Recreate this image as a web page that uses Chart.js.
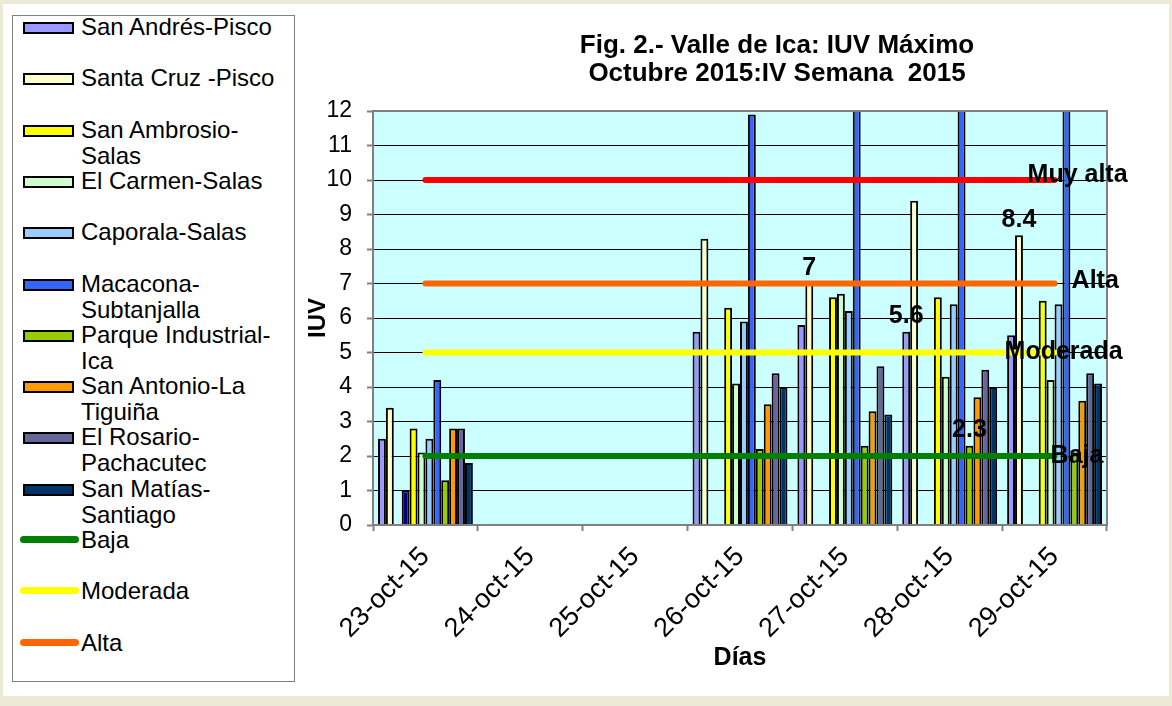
<!DOCTYPE html>
<html>
<head>
<meta charset="utf-8">
<script src="https://cdn.jsdelivr.net/npm/chart.js@4.4.0/dist/chart.umd.min.js"></script>
<style>
  body { margin: 0; background: #ECE9D8; }
  #marco { position: absolute; left: 3px; top: 4px; width: 1166px; height: 692px; background: #fff; }
  #grafico { position: absolute; left: 0; top: 0; }
  #leyenda { position: absolute; left: 12px; top: 15px; width: 281px; height: 665px;
    border: 1px solid #808080; background: #fff; overflow: hidden;
    font-family: "Liberation Sans", Arial, sans-serif; font-size: 24px; color: #000; }
  .item { position: absolute; left: 0; width: 281px; }
  .simbolo { position: absolute; }
  .texto { position: absolute; left: 68px; width: 205px; line-height: 26px; }
</style>
</head>
<body>
<div id="marco"></div>
<canvas id="grafico" width="1172" height="706"></canvas>
<div id="leyenda"></div>
<script>
  // datos
  const dias = ['23-oct-15', '24-oct-15', '25-oct-15', '26-oct-15', '27-oct-15', '28-oct-15', '29-oct-15'];

  const sanAndres   = [2.5, null, null, 5.6, 5.8, 5.6, 5.5];
  const santaCruz   = [3.4, null, null, 8.3, 7.0, 9.4, 8.4];
  const serieSinNombre1 = [null, null, null, null, null, null, null];
  const serieSinNombre2 = [1.0, null, null, null, null, null, null];
  const sanAmbrosio = [2.8, null, null, 6.3, 6.6, 6.6, 6.5];
  const elCarmen    = [2.1, null, null, 4.1, 6.7, 4.3, 4.2];
  const caporala    = [2.5, null, null, 5.9, 6.2, 6.4, 6.4];
  const macacona    = [4.2, null, null, 11.9, 13, 13, 13];
  const parque      = [1.3, null, null, 2.2, 2.3, 2.3, 2.1];
  const sanAntonio  = [2.8, null, null, 3.5, 3.3, 3.7, 3.6];
  const elRosario   = [2.8, null, null, 4.4, 4.6, 4.5, 4.4];
  const sanMatias   = [1.8, null, null, 4.0, 3.2, 4.0, 4.1];

  const baja     = [2, 2, 2, 2, 2, 2, 2];
  const moderada = [5, 5, 5, 5, 5, 5, 5];
  const alta     = [7, 7, 7, 7, 7, 7, 7];
  const muyAlta  = [10, 10, 10, 10, 10, 10, 10];

  const yTicks = [0, 1, 2, 3, 4, 5, 6, 7, 8, 9, 10, 11, 12];

  const barras = [
    { label: 'San Andrés-Pisco', data: sanAndres, color: '#9999FF' },
    { label: 'Santa Cruz -Pisco', data: santaCruz, color: '#FFFFCC' },
    { label: 'Serie 13', data: serieSinNombre1, color: '#800080', oculto: true },
    { label: 'Serie 14', data: serieSinNombre2, color: '#000080', oculto: true },
    { label: 'San Ambrosio-Salas', data: sanAmbrosio, color: '#FFFF00' },
    { label: 'El Carmen-Salas', data: elCarmen, color: '#CCFFCC' },
    { label: 'Caporala-Salas', data: caporala, color: '#99CCFF' },
    { label: 'Macacona-Subtanjalla', data: macacona, color: '#3366FF' },
    { label: 'Parque Industrial-Ica', data: parque, color: '#99CC00' },
    { label: 'San Antonio-La Tiguiña', data: sanAntonio, color: '#FF9900' },
    { label: 'El Rosario-Pachacutec', data: elRosario, color: '#666699' },
    { label: 'San Matías-Santiago', data: sanMatias, color: '#003366' }
  ];
  const lineas = [
    { label: 'Baja', data: baja, color: '#008000', dx: -4, dy: 0 },
    { label: 'Moderada', data: moderada, color: '#FFFF00', dx: -50, dy: 0 },
    { label: 'Alta', data: alta, color: '#FF6600', dx: 17, dy: -2 },
    { label: 'Muy alta', data: muyAlta, color: '#FF0000', dx: -27, dy: -5 }
  ];

  // etiquetas de valor: [serie, dia]
  const etiquetas = [[1, 4], [0, 5], [8, 5], [1, 6]];

  const datasets = barras.map(b => ({
    type: 'bar', label: b.label, data: b.data,
    backgroundColor: b.color, borderColor: '#000', borderWidth: 2,
    categoryPercentage: 0.905, barPercentage: 1,
    clip: { top: 0, left: false, right: false, bottom: false }
  })).concat(lineas.map(l => ({
    type: 'line', label: l.label, data: l.data, order: -1,
    borderColor: l.color, borderWidth: 6, borderCapStyle: 'round',
    pointRadius: 0, fill: false
  })));

  // leyenda en html
  const leyenda = document.getElementById('leyenda');
  const entradas = barras.filter(b => !b.oculto).map(b => ({ label: b.label, color: b.color, tipo: 'bar' }))
    .concat(lineas.map(l => ({ label: l.label, color: l.color, tipo: 'line' })));
  entradas.forEach((e, i) => {
    const cy = 27 + 51.3 * i - 16;
    const item = document.createElement('div');
    item.className = 'item';
    item.style.top = (cy - 13) + 'px';
    const s = document.createElement('div');
    s.className = 'simbolo';
    if (e.tipo === 'bar') {
      s.style.cssText = 'left:10px;top:8px;width:47px;height:8px;border:2px solid #000;background:' + e.color;
    } else {
      s.style.cssText = 'left:7px;top:9px;width:59px;height:7px;border-radius:4px;background:' + e.color;
    }
    const t = document.createElement('div');
    t.className = 'texto';
    t.textContent = e.label;
    item.appendChild(s);
    item.appendChild(t);
    leyenda.appendChild(item);
  });

  const fuente = '"Liberation Sans", Arial, sans-serif';

  const extras = {
    id: 'extras',
    beforeDraw(chart) {
      const { ctx, chartArea: a } = chart;
      ctx.save();
      ctx.fillStyle = '#CCFFFF';
      ctx.fillRect(a.left, a.top, a.right - a.left, a.bottom - a.top);
      ctx.restore();
    },
    afterDraw(chart) {
      const { ctx, chartArea: a } = chart;
      ctx.save();
      ctx.strokeStyle = '#808080';
      ctx.lineWidth = 2;
      ctx.strokeRect(a.left, a.top, a.right - a.left, a.bottom - a.top);

      ctx.fillStyle = '#000';
      ctx.textAlign = 'center';
      ctx.textBaseline = 'middle';
      ctx.font = 'bold 26px ' + fuente;
      ctx.fillText('Fig. 2.- Valle de Ica: IUV Máximo', 777, 46);
      ctx.fillText('Octubre 2015:IV Semana  2015', 777, 74);

      ctx.font = 'bold 25px ' + fuente;
      ctx.textBaseline = 'bottom';
      etiquetas.forEach(([d, i]) => {
        const el = chart.getDatasetMeta(d).data[i];
        ctx.fillText(String(barras[d].data[i]), el.x, el.y - 3);
      });

      ctx.textAlign = 'left';
      ctx.textBaseline = 'middle';
      lineas.forEach((l, k) => {
        const meta = chart.getDatasetMeta(barras.length + k);
        const p = meta.data[meta.data.length - 1];
        ctx.fillText(l.label, p.x + l.dx, p.y + l.dy);
      });
      ctx.restore();
    }
  };

  new Chart(document.getElementById('grafico'), {
    type: 'bar',
    data: { labels: dias, datasets: datasets },
    options: {
      responsive: false,
      animation: false,
      layout: { padding: { left: 300, right: 65, top: 111, bottom: 0 } },
      plugins: { legend: { display: false }, tooltip: { enabled: false }, title: { display: false } },
      scales: {
        x: {
          afterFit(s) { s.height = 181; },
          grid: { offset: true, drawOnChartArea: false, tickLength: 6, tickColor: '#808080', tickWidth: 2 },
          border: { color: '#808080', width: 2 },
          ticks: { autoSkip: false, minRotation: 45, maxRotation: 45, padding: 10, color: '#000',
                   font: { family: fuente, size: 27 } },
          title: { display: true, text: 'Días', color: '#000', font: { family: fuente, size: 25, weight: 'bold' },
                   padding: { top: 0, bottom: 33 } }
        },
        y: {
          min: 0, max: 12,
          afterFit(s) { s.width = 73; },
          afterBuildTicks(s) { s.ticks = yTicks.map(v => ({ value: v })); },
          grid: { color: '#000', borderDash: [3, 2], tickLength: 6, tickColor: '#808080', tickWidth: 2 },
          border: { color: '#808080', width: 2 },
          ticks: { padding: 15, color: '#000', font: { family: fuente, size: 23 } },
          title: { display: true, text: 'IUV', color: '#000', font: { family: fuente, size: 24, weight: 'bold' },
                   padding: { top: 4, bottom: 0 } }
        }
      }
    },
    plugins: [extras]
  });
</script>
</body>
</html>
